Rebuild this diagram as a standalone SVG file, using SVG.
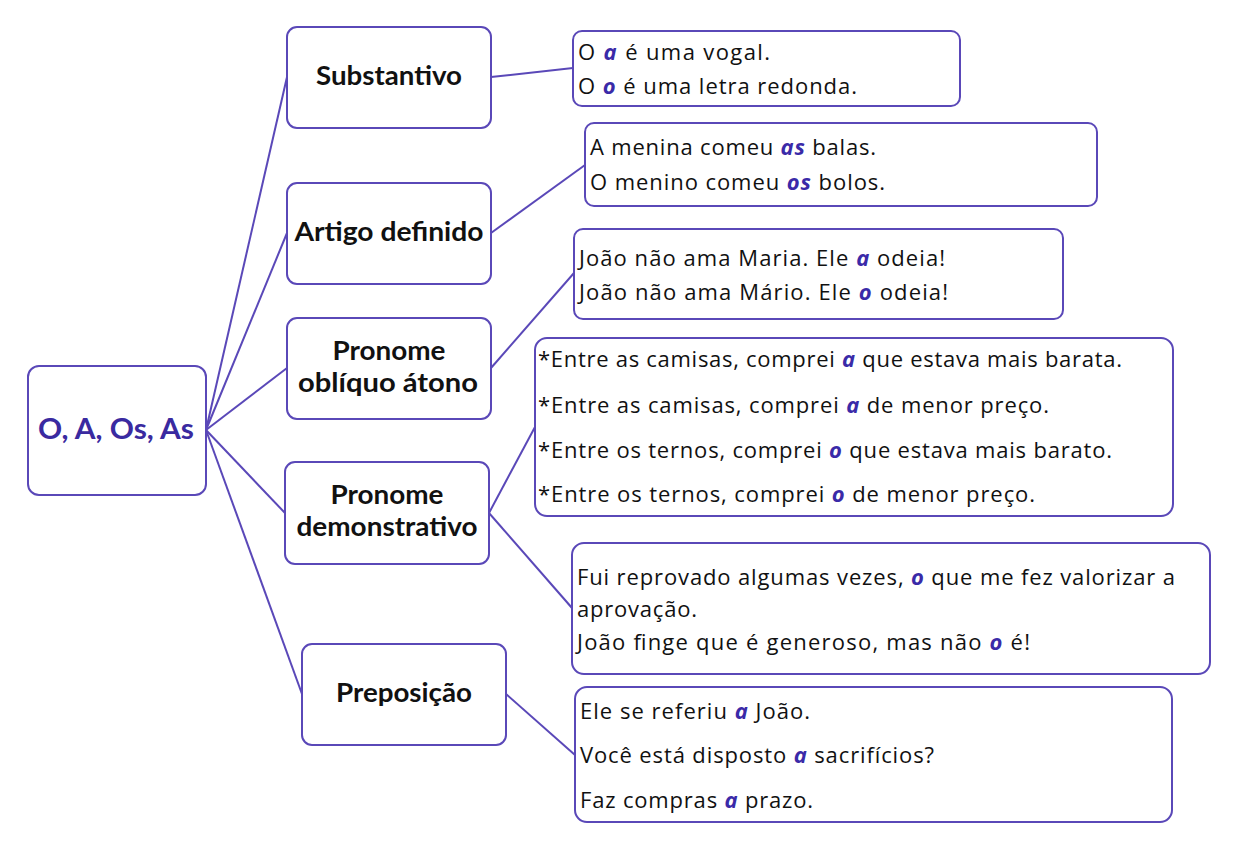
<svg xmlns="http://www.w3.org/2000/svg" width="1238" height="854" viewBox="0 0 1238 854">
<style>
.box{fill:#fff;stroke:#5a48b8;stroke-width:2}
.conn{stroke:#5a48b8;stroke-width:2;fill:none}
.h{font-family:Lato,"Liberation Sans",sans-serif;font-weight:bold;font-size:26px;fill:#111;text-anchor:middle}
.root{font-family:Lato,"Liberation Sans",sans-serif;font-weight:bold;font-size:28px;fill:#3a2aa0;text-anchor:middle}
.t{font-family:"Open Sans","Liberation Sans",sans-serif;font-size:22px;fill:#111}
.e{font-weight:bold;font-style:italic;fill:#3a2aa8}
</style>
<rect width="1238" height="854" fill="#fff"/>
<g id="connectors">
<line class="conn" x1="206" y1="430" x2="287" y2="77"/>
<line class="conn" x1="206" y1="430" x2="287" y2="233"/>
<line class="conn" x1="206" y1="430" x2="287" y2="368"/>
<line class="conn" x1="206" y1="430" x2="285" y2="513"/>
<line class="conn" x1="206" y1="430" x2="302" y2="694"/>
<line class="conn" x1="491" y1="77" x2="573" y2="68"/>
<line class="conn" x1="491" y1="233" x2="585" y2="165"/>
<line class="conn" x1="491" y1="368" x2="574" y2="273"/>
<line class="conn" x1="489" y1="513" x2="535" y2="427"/>
<line class="conn" x1="489" y1="513" x2="572" y2="608"/>
<line class="conn" x1="506" y1="694" x2="575" y2="755"/>
</g>
<g id="root">
<rect class="box" x="28" y="366" width="178" height="129" rx="11"/>
<text class="root" x="116" y="439" textLength="156" lengthAdjust="spacingAndGlyphs">O, A, Os, As</text>
</g>
<g id="substantivo">
<rect class="box" x="287" y="27" width="204" height="101" rx="10"/>
<text class="h" x="389" y="85" textLength="146" lengthAdjust="spacingAndGlyphs">Substantivo</text>
</g>
<g id="artigo">
<rect class="box" x="287" y="183" width="204" height="101" rx="10"/>
<text class="h" x="389" y="241" textLength="189" lengthAdjust="spacingAndGlyphs">Artigo definido</text>
</g>
<g id="obliquo">
<rect class="box" x="287" y="318" width="204" height="101" rx="10"/>
<text class="h" x="389" y="360" textLength="113" lengthAdjust="spacingAndGlyphs">Pronome</text>
<text class="h" x="388" y="392" textLength="180" lengthAdjust="spacingAndGlyphs">oblíquo átono</text>
</g>
<g id="demonstrativo">
<rect class="box" x="285" y="462" width="204" height="102" rx="10"/>
<text class="h" x="387" y="504" textLength="113" lengthAdjust="spacingAndGlyphs">Pronome</text>
<text class="h" x="387" y="536" textLength="181" lengthAdjust="spacingAndGlyphs">demonstrativo</text>
</g>
<g id="preposicao">
<rect class="box" x="302" y="644" width="204" height="101" rx="10"/>
<text class="h" x="404" y="702" textLength="136" lengthAdjust="spacingAndGlyphs">Preposição</text>
</g>
<g id="ex-substantivo">
<rect class="box" x="573" y="31" width="387" height="75" rx="9"/>
<text class="t" x="578" y="60" textLength="192">O <tspan class="e">a</tspan> é uma vogal.</text>
<text class="t" x="578" y="94" textLength="279">O <tspan class="e">o</tspan> é uma letra redonda.</text>
</g>
<g id="ex-artigo">
<rect class="box" x="585" y="123" width="512" height="83" rx="9"/>
<text class="t" x="590" y="155" textLength="286">A menina comeu <tspan class="e">as</tspan> balas.</text>
<text class="t" x="590" y="190" textLength="295">O menino comeu <tspan class="e">os</tspan> bolos.</text>
</g>
<g id="ex-obliquo">
<rect class="box" x="574" y="229" width="489" height="90" rx="9"/>
<text class="t" x="579" y="266" textLength="366">João não ama Maria. Ele <tspan class="e">a</tspan> odeia!</text>
<text class="t" x="579" y="300" textLength="369">João não ama Mário. Ele <tspan class="e">o</tspan> odeia!</text>
</g>
<g id="ex-demonstrativo-1">
<rect class="box" x="535" y="338" width="638" height="178" rx="12"/>
<text class="t" x="538" y="367" textLength="584">*Entre as camisas, comprei <tspan class="e">a</tspan> que estava mais barata.</text>
<text class="t" x="538" y="413" textLength="511">*Entre as camisas, comprei <tspan class="e">a</tspan> de menor preço.</text>
<text class="t" x="538" y="458" textLength="574">*Entre os ternos, comprei <tspan class="e">o</tspan> que estava mais barato.</text>
<text class="t" x="538" y="502" textLength="497">*Entre os ternos, comprei <tspan class="e">o</tspan> de menor preço.</text>
</g>
<g id="ex-demonstrativo-2">
<rect class="box" x="572" y="543" width="638" height="131" rx="12"/>
<text class="t" x="577" y="585" textLength="598">Fui reprovado algumas vezes, <tspan class="e">o</tspan> que me fez valorizar a</text>
<text class="t" x="577" y="617" textLength="120">aprovação.</text>
<text class="t" x="577" y="650" textLength="453">João finge que é generoso, mas não <tspan class="e">o</tspan> é!</text>
</g>
<g id="ex-preposicao">
<rect class="box" x="575" y="687" width="597" height="135" rx="12"/>
<text class="t" x="580" y="719" textLength="230">Ele se referiu <tspan class="e">a</tspan> João.</text>
<text class="t" x="580" y="763" textLength="354">Você está disposto <tspan class="e">a</tspan> sacrifícios?</text>
<text class="t" x="580" y="808" textLength="233">Faz compras <tspan class="e">a</tspan> prazo.</text>
</g>
</svg>
